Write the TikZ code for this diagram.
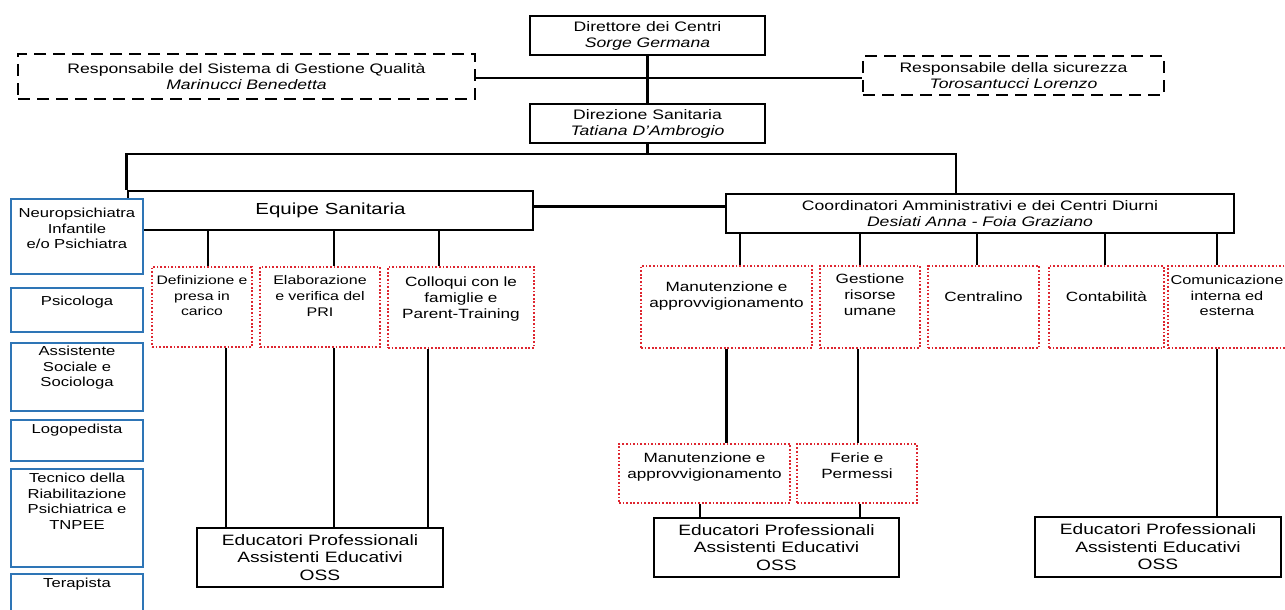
\documentclass[tikz,border=0pt]{standalone}
\usepackage{fontspec}
\setmainfont[FakeStretch=1.28]{Liberation Sans}
\usepackage{tikz}
\usetikzlibrary{positioning}
\definecolor{staffblue}{RGB}{46,117,182}
\definecolor{taskred}{RGB}{222,38,48}

\begin{document}
\begin{tikzpicture}[
    % UNITS: one point per pixel, y runs downwards
    x=1pt, y=-1pt,
    % STYLES
    head/.style={draw=black, fill=white, line width=2.6pt, align=center, inner sep=0pt,
        font=\fontsize{13.75}{16}\selectfont},
    team/.style={head, font=\fontsize{15}{17.5}\selectfont},
    aide/.style={head, dash pattern=on 12pt off 7pt},
    staff/.style={draw=staffblue, fill=white, line width=1.6pt, anchor=north, align=center,
        inner xsep=2pt, inner ysep=0pt, text width=128pt, font=\fontsize{13}{15.5}\selectfont},
    task/.style={draw=taskred, fill=white, line width=1.8pt, dash pattern=on 1.7pt off 1.9pt,
        anchor=north, align=center, inner xsep=2pt, inner ysep=0pt,
        font=\fontsize{13.4}{15.8}\selectfont},
    edge/.style={draw, line width=2.5pt}
]

    \fill[white] (0,0) rectangle (1285,610);
    \useasboundingbox (0,0) rectangle (1285,610);

    % Top of the chart
    \node[head, minimum width=235pt, minimum height=39pt] (dir) at (647.5,35.5)
        {Direttore dei Centri\\\textit{Sorge Germana}};
    \node[head, minimum width=235pt, minimum height=39pt] (sanit) at (647.5,123.5)
        {Direzione Sanitaria\\\textit{Tatiana D'Ambrogio}};
    \node[aide, minimum width=457pt, minimum height=45pt] (quality) at (246.5,76.5)
        {Responsabile del Sistema di Gestione Qualità\\\textit{Marinucci Benedetta}};
    \node[aide, minimum width=301pt, minimum height=39pt] (safety) at (1013.5,75.5)
        {Responsabile della sicurezza\\\textit{Torosantucci Lorenzo}};

    \coordinate (split) at (956,154);
    \draw[edge] (dir) -- (sanit);
    \draw[edge] ([yshift=-1.5pt]quality.east) -- ([yshift=-1.5pt]quality.east -| safety.west);
    \draw[edge] (sanit) -- (sanit |- split);

    % Two branches
    \node[head, minimum width=405pt, minimum height=39pt,
        font=\fontsize{16}{18}\selectfont] (equipe) at (330.5,210.5) {Equipe Sanitaria};
    \node[head, minimum width=508pt, minimum height=39pt] (coord) at (980,213.5)
        {Coordinatori Amministrativi e dei Centri Diurni\\\textit{Desiati Anna - Foia Graziano}};

    \draw[edge] (equipe.north west) |- (split) -- (split |- coord.north);
    \draw[edge] ([yshift=4pt]equipe.east) -- ([yshift=4pt]equipe.east -| coord.west);

    % Staff column on the left
    \foreach \n/\ytop/\hi/\lo/\txt in {
        neuro/198/19/56/{Neuropsichiatra\\Infantile\\e/o Psichiatra},
        psych/287/18/26/{Psicologa},
        social/342/13/55/{Assistente\\Sociale e\\Sociologa},
        speech/419/14/27/{Logopedista},
        rehab/468/14/84/{Tecnico della\\Riabilitazione\\Psichiatrica e\\TNPEE},
        therapy/573/14/25/{Terapista}} {
        \node[staff, text height=\hi pt, text depth=\lo pt] (\n) at (77,\ytop) {\txt};
    }

    % Tasks of the Equipe
    \node[task, text width=96pt, text height=18pt, text depth=62pt,
        font=\fontsize{12.3}{15.5}\selectfont] (define) at (202,266) {Definizione e\\presa in\\carico};
    \node[task, text width=116pt, text height=18pt, text depth=62pt,
        font=\fontsize{12.5}{15.8}\selectfont] (plan) at (320,266) {Elaborazione\\e verifica del\\PRI};
    \node[task, text width=142pt, text height=20pt, text depth=61pt] (talks) at (461,266)
        {Colloqui con le\\famiglie e\\Parent-Training};

    % Tasks of the Coordinatori
    \node[task, text width=167pt, text height=26pt, text depth=56pt] (upkeep) at (726.5,265)
        {Manutenzione e\\approvvigionamento};
    \node[task, text width=96pt, text height=18pt, text depth=64pt] (staffing) at (870,265)
        {Gestione\\risorse\\umane};
    \node[task, text width=107pt, text height=36pt, text depth=46pt] (switch) at (983.5,265)
        {Centralino};
    \node[task, text width=111pt, text height=36pt, text depth=46pt] (books) at (1106.5,265)
        {Contabilità};
    \node[task, text width=114pt, text height=19pt, text depth=63pt,
        font=\fontsize{12.8}{15.5}\selectfont] (comms) at (1227,265)
        {Comunicazione\\interna ed\\esterna};
    \node[task, text width=167pt, text height=19pt, text depth=40pt] (upkeep2) at (704.5,443)
        {Manutenzione e\\approvvigionamento};
    \node[task, text width=116pt, text height=19pt, text depth=40pt] (leave) at (857,443)
        {Ferie e\\Permessi};

    % Educators
    \node[team, minimum width=246pt, minimum height=59pt] (edu1) at (320,557.5)
        {Educatori Professionali\\Assistenti Educativi\\OSS};
    \node[team, minimum width=245pt, minimum height=59pt] (edu2) at (776.5,547.5)
        {Educatori Professionali\\Assistenti Educativi\\OSS};
    \node[team, minimum width=246pt, minimum height=60pt] (edu3) at (1158,547)
        {Educatori Professionali\\Assistenti Educativi\\OSS};

    % Links
    \foreach \n/\dx in {define/6, plan/14, talks/-22}
        \draw[edge] ([xshift=\dx pt]\n.north) -- ([xshift=\dx pt]\n.north |- equipe.south);
    \foreach \n/\dx in {define/24, plan/14, talks/-33}
        \draw[edge] ([xshift=\dx pt]\n.south) -- ([xshift=\dx pt]\n.south |- edu1.north);
    \foreach \n/\dx in {upkeep/13.5, staffing/-10, switch/-6.5, books/-1.5, comms/-10}
        \draw[edge] ([xshift=\dx pt]\n.north) -- ([xshift=\dx pt]\n.north |- coord.south);

    \draw[edge] (upkeep.south) -- (upkeep.south |- upkeep2.north);
    \draw[edge] ([xshift=-12pt]staffing.south) -- ([xshift=-12pt]staffing.south |- leave.north);
    \draw[edge] ([xshift=-4.5pt]upkeep2.south) -- ([xshift=-4.5pt]upkeep2.south |- edu2.north);
    \draw[edge] ([xshift=3pt]leave.south) -- ([xshift=3pt]leave.south |- edu2.north);
    \draw[edge] ([xshift=-10pt]comms.south) -- ([xshift=-10pt]comms.south |- edu3.north);

\end{tikzpicture}
\end{document}
